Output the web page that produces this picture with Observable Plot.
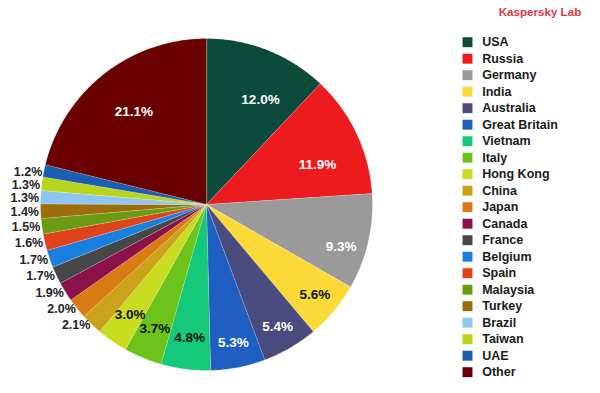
<!DOCTYPE html>
<html>
<head>
<meta charset="utf-8">
<script src="https://cdn.jsdelivr.net/npm/d3@7"></script>
<script src="https://cdn.jsdelivr.net/npm/@observablehq/plot@0.6"></script>
<style>
  html, body { margin: 0; padding: 0; background: #fff; }
  #wrap { position: relative; width: 600px; height: 393px; overflow: hidden; font-family: "Liberation Sans", Arial, sans-serif; }
  #wrap > div.plotbox { position: absolute; top: 0; }
  #title { position: absolute; top: 5px; left: 478px; width: 124px; text-align: center; color: #e3343c; font-weight: bold; font-size: 11.6px; }
</style>
</head>
<body>
<div id="wrap">
  <div id="title">Kaspersky Lab</div>
  <div id="pie" class="plotbox" style="left:0"></div>
  <div id="legend" class="plotbox" style="left:455px"></div>
</div>
<script>
const countries = ["USA","Russia","Germany","India","Australia","Great Britain","Vietnam","Italy","Hong Kong","China","Japan","Canada","France","Belgium","Spain","Malaysia","Turkey","Brazil","Taiwan","UAE","Other"];
const shares = [12.0,11.9,9.3,5.6,5.4,5.3,4.8,3.7,3.0,2.1,2.0,1.9,1.7,1.7,1.6,1.5,1.4,1.3,1.3,1.2,21.1];
const colors = ["#0c4a3b","#ee1b1e","#9a9a9a","#fbd936","#4a4b7e","#1f5fc2","#14c979","#6cc41a","#c9dc1f","#caa31b","#d97b12","#8b1148","#474747","#1a80e0","#e0421b","#6b9b12","#9b6e0b","#8fc5f1","#b9d51b","#1b5db0","#6a0000"];
const outsideLabels = ["China","Japan","Canada","France","Belgium","Spain","Malaysia","Turkey","Brazil","Taiwan","UAE"];

const total = d3.sum(shares);
const slices = [];
let acc = 0;
countries.forEach((name, i) => {
  const a0 = acc / total * 2 * Math.PI;
  acc += shares[i];
  const a1 = acc / total * 2 * Math.PI;
  slices.push({name, value: shares[i], a0, a1, mid: (a0 + a1) / 2});
});

// polygon outline of each wedge (center + arc samples)
const pts = [];
for (const s of slices) {
  pts.push({name: s.name, x: 0, y: 0});
  const n = Math.max(4, Math.ceil((s.a1 - s.a0) / 0.01));
  for (let k = 0; k <= n; k++) {
    const a = s.a0 + (s.a1 - s.a0) * k / n;
    pts.push({name: s.name, x: Math.sin(a), y: Math.cos(a)});
  }
}

const fmt = v => v.toFixed(1) + "%";
const colorOf = name => colors[countries.indexOf(name)];
const inside = slices.filter(s => !outsideLabels.includes(s.name)).map(s => {
  const r = s.value >= 10 ? 0.71 : s.value >= 5 ? 0.85 : 0.81;
  const f = (s.value >= 9 && s.name !== "Other") ? 0.63 : 0.5;
  const a = s.a0 + (s.a1 - s.a0) * f;
  return {...s, lx: r * Math.sin(a), ly: r * Math.cos(a),
    ink: d3.lab(colorOf(s.name)).l > 68 ? "#111" : "#fff"};
});
const outside = slices.filter(s => outsideLabels.includes(s.name)).map(s => ({
  ...s, lx: 1.01 * Math.sin(s.mid), ly: 1.0 * Math.cos(s.mid)
}));

const pie = Plot.plot({
  width: 600, height: 393, margin: 0,
  x: {domain: [-1, 1], range: [40, 372], axis: null},
  y: {domain: [-1, 1], range: [370, 38], axis: null},
  color: {domain: countries, range: colors},
  style: {fontFamily: "'Liberation Sans', Arial, sans-serif", background: "transparent"},
  marks: [
    Plot.line(pts, {x: "x", y: "y", z: "name", fill: "name", stroke: "#ffffff", strokeOpacity: 0.35, strokeWidth: 0.6, curve: "linear-closed"}),
    Plot.text(inside, {x: "lx", y: "ly", text: d => fmt(d.value), fill: "ink", fontWeight: "bold", fontSize: 13.5}),
    Plot.text(outside, {x: "lx", y: "ly", text: d => fmt(d.value), fill: "#222", fontWeight: "bold", fontSize: 12.5, textAnchor: "end", dy: 1})
  ]
});
document.getElementById("pie").appendChild(pie);

const legend = Plot.plot({
  width: 145, height: 393, margin: 0,
  x: {domain: [0, 1], range: [12, 130], axis: null},
  y: {type: "point", domain: countries, range: [41.7, 371.7], padding: 0, round: false, axis: null},
  color: {domain: countries, range: colors},
  style: {fontFamily: "'Liberation Sans', Arial, sans-serif", background: "transparent"},
  marks: [
    Plot.dot(countries, {x: () => 0, y: d => d, fill: d => d, symbol: "square", r: 5.6}),
    Plot.text(countries, {x: () => 0, y: d => d, text: d => d, dx: 14.7, textAnchor: "start", fill: "#1a1a1a", fontWeight: "bold", fontSize: 12.5})
  ]
});
document.getElementById("legend").appendChild(legend);
</script>
</body>
</html>
